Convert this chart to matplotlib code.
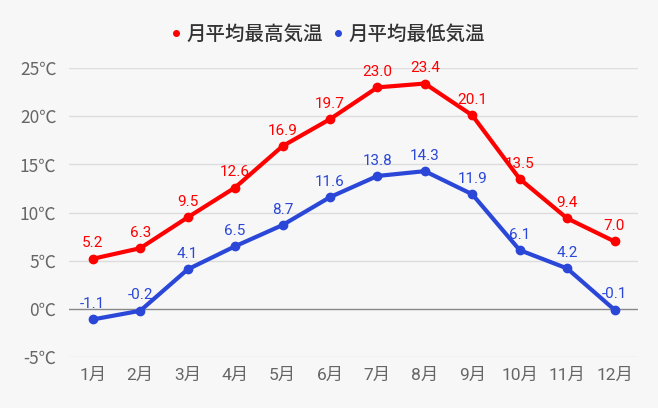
import numpy as np
import matplotlib.pyplot as plt

plt.rcParams['font.family'] = ['Roboto', 'Noto Sans CJK JP', 'DejaVu Sans']

months = ["1月", "2月", "3月", "4月", "5月", "6月", "7月", "8月", "9月", "10月", "11月", "12月"]
t_max = [5.2, 6.3, 9.5, 12.6, 16.9, 19.7, 23.0, 23.4, 20.1, 13.5, 9.4, 7.0]
t_min = [-1.1, -0.2, 4.1, 6.5, 8.7, 11.6, 13.8, 14.3, 11.9, 6.1, 4.2, -0.1]
y_ticks = [-5, 0, 5, 10, 15, 20, 25]

red = "#ff0000"
blue = "#2a47d8"
bg = "#f7f7f7"

fig = plt.figure(figsize=(6.58, 4.08), dpi=100, facecolor=bg)
ax = fig.add_axes([0.105, 0.125, 0.865, 0.708], facecolor=bg)

x = np.arange(len(months))
ax.plot(x, t_max, "-o", color=red, lw=3, ms=6, label="月平均最高気温", zorder=3)
ax.plot(x, t_min, "-o", color=blue, lw=3, ms=6, label="月平均最低気温", zorder=3)

for xi, v in zip(x, t_max):
    ax.annotate("{:.1f}".format(v), (xi, v), xytext=(0, 6), textcoords="offset points",
                ha="center", va="bottom", color=red, fontsize=11, zorder=4)
for xi, v in zip(x, t_min):
    ax.annotate("{:.1f}".format(v), (xi, v), xytext=(0, 6), textcoords="offset points",
                ha="center", va="bottom", color=blue, fontsize=11, zorder=4)

ax.set_xlim(-0.5, 11.5)
ax.set_ylim(-5, 25)
ax.set_xticks(x)
ax.set_xticklabels(months)
ax.set_yticks(y_ticks)
ax.set_yticklabels(["{}℃".format(t) for t in y_ticks], family=["Noto Sans CJK JP"])
ax.tick_params(length=0, labelsize=12.5, colors="#666666", pad=9)
ax.tick_params(axis="x", pad=8)
for t in y_ticks:
    ax.axhline(t, color="#888888" if t == 0 else "#dddddd", lw=1, zorder=1)
for s in ax.spines.values():
    s.set_visible(False)

fig.legend(loc="center", bbox_to_anchor=(0.5, 0.915), ncol=2, frameon=False,
           handlelength=0.3, handletextpad=0.4, columnspacing=0.6,
           prop={"family": "Noto Sans CJK JP", "size": 14, "weight": "medium"},
           labelcolor="#333333")
leg = fig.legends[0]
for h in leg.legend_handles:
    h.set_linestyle("none")
    h.set_markersize(4)

fig.savefig("out.png", dpi=100, facecolor=bg)
